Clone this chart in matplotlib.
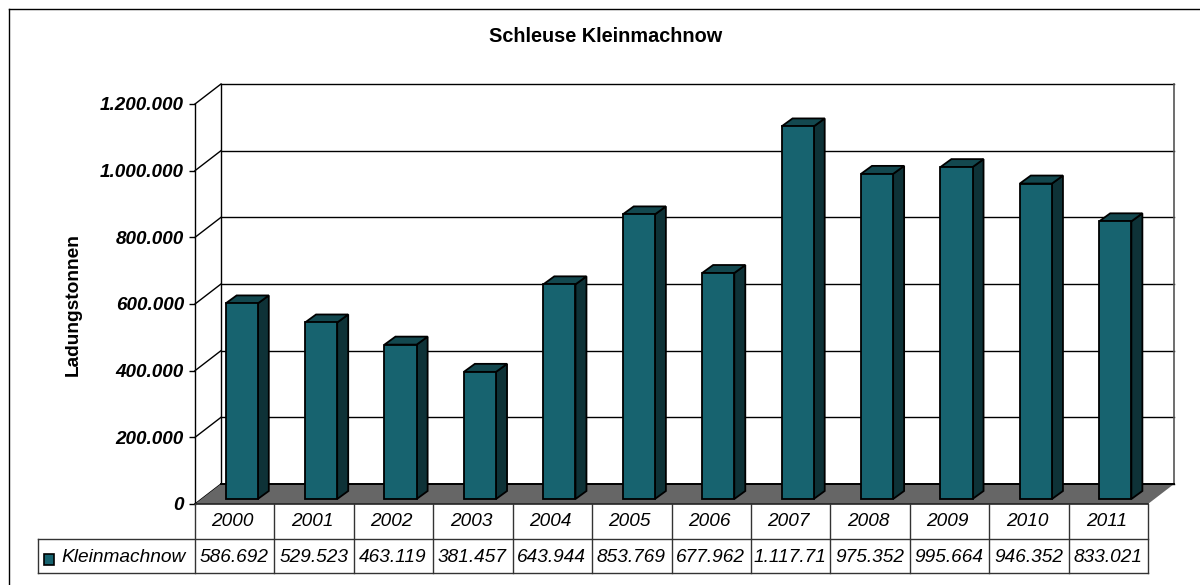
import matplotlib
matplotlib.use("Agg")
import matplotlib.pyplot as plt
from matplotlib.patches import Polygon, Rectangle
from matplotlib.lines import Line2D
from matplotlib.transforms import Affine2D
from matplotlib.ticker import FuncFormatter

years = ["2000","2001","2002","2003","2004","2005","2006","2007","2008","2009","2010","2011"]
values = [586692,529523,463119,381457,643944,853769,677962,1117710,975352,995664,946352,833021]
table_labels = ["586.692","529.523","463.119","381.457","643.944","853.769","677.962","1.117.71","975.352","995.664","946.352","833.021"]
series_name = "Kleinmachnow"
title = "Schleuse Kleinmachnow"
ylabel = "Ladungstonnen"
yticks = [0,200000,400000,600000,800000,1000000,1200000]

FRONT="#17636F"; SIDE="#0E3237"; TOP="#13484F"; FLOOR="#666666"
plt.rcParams['font.family']=['Liberation Sans','DejaVu Sans']
W,H=1200,585
fig=plt.figure(figsize=(W/100,H/100),dpi=100,facecolor="white")
L,R,T,B=195,1148,104,504
ax=fig.add_axes([L/W,1-B/H,(R-L)/W,(B-T)/H])
ax.set_xlim(0,12); ax.set_ylim(0,1200000)
ax.patch.set_visible(False)
for s in ["top","right","bottom"]: ax.spines[s].set_visible(False)
ax.spines["left"].set_linewidth(1.0)
ax.set_xticks([])
ax.set_yticks(yticks)
ax.yaxis.set_major_formatter(FuncFormatter(lambda v,_:f"{int(v):,}".replace(",",".")))
ax.tick_params(axis="y",length=4,width=1,pad=4,labelsize=13.6)
for t in ax.get_yticklabels():
    t.set_fontweight("bold"); t.set_fontstyle("italic")
ax.set_ylabel(ylabel,fontsize=13.8,fontweight="bold",va="center")
ax.yaxis.set_label_coords((73-L)/(R-L),(B-305)/(B-T))

def off(dx,dy):
    return ax.transData+Affine2D().translate(dx,dy)
DX,DY=26,20
back=off(DX,DY)
ax.add_patch(Rectangle((0,0),12,1200000,fc="white",ec="none",transform=back,clip_on=False,zorder=1))
for v in yticks:
    ax.add_line(Line2D([0,12],[v,v],color="black",lw=1.0,transform=back,clip_on=False,zorder=1.2))
    x0,y0=ax.transData.transform((0,v))
    ax.add_line(Line2D([x0,x0+DX],[y0,y0+DY],color="black",lw=1.0,transform=None,clip_on=False,zorder=1.2))
ax.add_line(Line2D([0,0],[0,1200000],color="black",lw=1.0,transform=back,clip_on=False,zorder=1.2))
ax.add_line(Line2D([12,12],[0,1200000],color="#555555",lw=1.2,transform=back,clip_on=False,zorder=1.2))
px=ax.transData.transform
f=[px((0,0)),px((12,0))]
floor=[f[0],f[1],f[1]+[DX,DY],f[0]+[DX,DY]]
ax.add_patch(Polygon(floor,fc=FLOOR,ec="none",transform=None,clip_on=False,zorder=1.5))
ax.add_line(Line2D([floor[3][0],floor[2][0]],[floor[3][1],floor[2][1]],color="black",lw=1.4,transform=None,clip_on=False,zorder=1.6))

d0x,d0y=7,5
dbx,dby=11,8
bw=0.405
fr=off(d0x,d0y)
for i,v in enumerate(values):
    xl=i+0.5-bw/2; xr=i+0.5+bw/2
    (x1,y0),(x2,y1)=fr.transform((xl,0)),fr.transform((xr,v))
    side=[(x2,y0),(x2+dbx,y0+dby),(x2+dbx,y1+dby),(x2,y1)]
    top=[(x1,y1),(x2,y1),(x2+dbx,y1+dby),(x1+dbx,y1+dby)]
    ax.add_patch(Polygon(side,fc=SIDE,ec="black",lw=1.3,transform=None,clip_on=False,zorder=2,joinstyle="miter"))
    ax.add_patch(Polygon(top,fc=TOP,ec="black",lw=1.3,transform=None,clip_on=False,zorder=2,joinstyle="miter"))
ax.bar([i+0.5 for i in range(12)],values,width=bw,color=FRONT,edgecolor="black",linewidth=1.3,transform=fr,clip_on=False,zorder=3)
ax.set_ylim(0,1200000); ax.set_xlim(0,12)

# table and frame in pixel positions
def fl(xs,ys,c="black",lw=1.0):
    fig.add_artist(Line2D([x/W for x in xs],[1-y/H for y in ys],color=c,lw=lw,transform=fig.transFigure))
def ft(x,y,s,**k):
    fig.text(x/W,1-y/H,s,va="center",**k)
fl([9,9],[9,585]); fl([9,1200],[9,9])
fl([L,R],[504,504],c="#222222",lw=1.2)
fl([37.5,R],[539,539],c="#333333"); fl([37.5,R],[572.5,572.5],c="#333333")
fl([37.5,37.5],[539,572.5],c="#333333")
cw=(R-L)/12
for i,(y,l) in enumerate(zip(years,table_labels)):
    c=L+(i+.5)*cw
    ft(c-2,522,y,ha="center",fontsize=13.7,fontstyle="italic")
    ft(c-0.5,558,l,ha="center",fontsize=13.7,fontstyle="italic")
for i in range(13):
    x=L+i*cw
    fl([x,x],[504,572.5],c="#333333")
ft(61,558,series_name,ha="left",fontsize=13.8,fontstyle="italic")
fig.add_artist(Rectangle((44/W,1-565/H),10/W,11/H,fc=FRONT,ec="black",lw=1.2,transform=fig.transFigure))
ft(606,36,title,ha="center",fontsize=14.3,fontweight="bold")
fig.savefig("out.png",dpi=100)
